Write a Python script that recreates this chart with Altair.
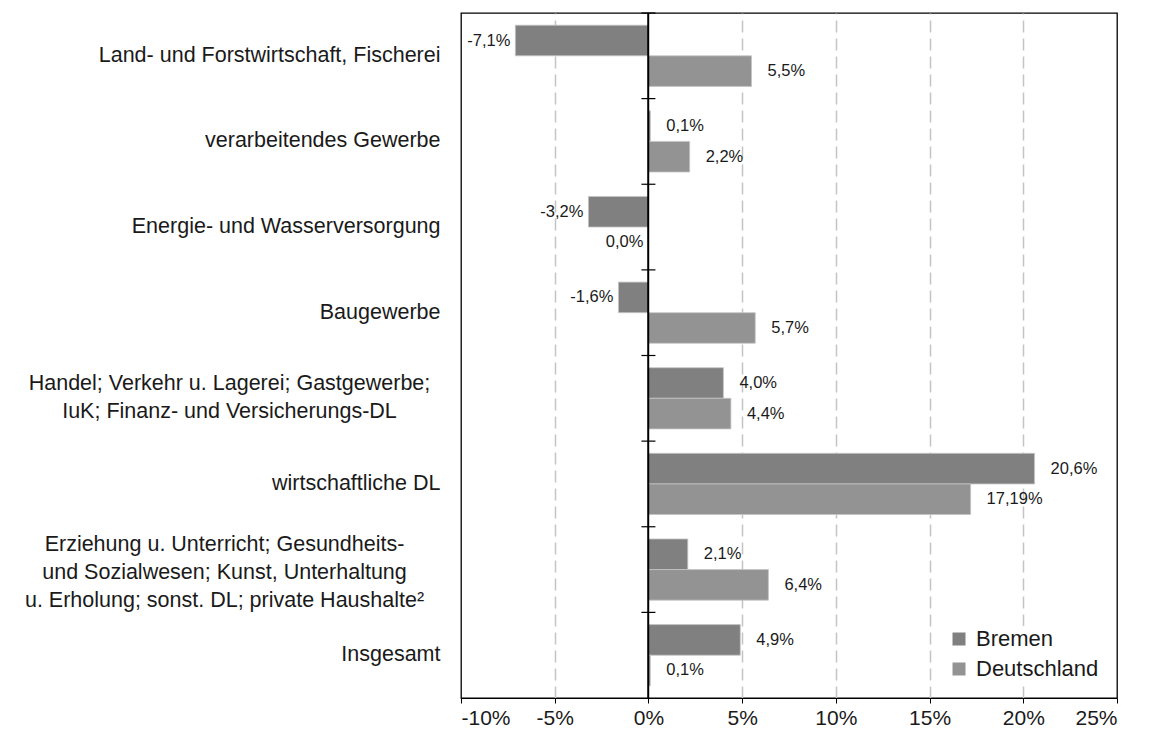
import altair as alt
import pandas as pd

categories = [
    "Land- und Forstwirtschaft, Fischerei",
    "verarbeitendes Gewerbe",
    "Energie- und Wasserversorgung",
    "Baugewerbe",
    "Handel; Verkehr u. Lagerei; Gastgewerbe;\nIuK; Finanz- und Versicherungs-DL",
    "wirtschaftliche DL",
    "Erziehung u. Unterricht; Gesundheits-\nund Sozialwesen; Kunst, Unterhaltung\nu. Erholung; sonst. DL; private Haushalte²",
    "Insgesamt",
]
series = ["Bremen", "Deutschland"]
bremen = [-7.1, 0.1, -3.2, -1.6, 4.0, 20.6, 2.1, 4.9]
deutschland = [5.5, 2.2, 0.0, 5.7, 4.4, 17.19, 6.4, 0.1]
bremen_labels = ["-7,1%", "0,1%", "-3,2%", "-1,6%", "4,0%", "20,6%", "2,1%", "4,9%"]
deutschland_labels = ["5,5%", "2,2%", "0,0%", "5,7%", "4,4%", "17,19%", "6,4%", "0,1%"]
x_ticks = [-10, -5, 0, 5, 10, 15, 20, 25]
colors = ["#808080", "#939393"]

rows = []
for name, vals, labs in [("Bremen", bremen, bremen_labels), ("Deutschland", deutschland, deutschland_labels)]:
    for c, v, l in zip(categories, vals, labs):
        rows.append({"cat": c, "series": name, "value": v, "label": l})
df = pd.DataFrame(rows)
cat_df = pd.DataFrame({"cat": categories})

FONT = "Liberation Sans"
TWO = "indexof(datum.value, 'Handel') == 0"
THREE = "indexof(datum.value, 'Erziehung') == 0"
LH = 28

y_axis = alt.Axis(
    title=None, ticks=False, domain=False,
    labelExpr="split(datum.label, '\\n')",
    labelFont=FONT, labelFontSize=21.5, labelColor="#1a1a1a", labelLineHeight=LH,
    labelLimit=0,
    labelAlign={"condition": {"test": TWO + " || " + THREE, "value": "center"}, "value": "right"},
    labelPadding={"condition": [{"test": TWO, "value": 232}, {"test": THREE, "value": 237}], "value": 21},
    labelOffset={"condition": [{"test": TWO, "value": -LH / 2}, {"test": THREE, "value": -LH + 3}], "value": 0},
)
y_enc = alt.Y("cat:N", sort=categories, scale=alt.Scale(paddingInner=0, paddingOuter=0), axis=y_axis)
y_off = alt.YOffset("series:N", sort=series, scale=alt.Scale(paddingInner=0, paddingOuter=0.4))

x_scale = alt.Scale(domain=[-10, 25], nice=False)
x_axis = alt.Axis(
    title=None, values=x_ticks, labelExpr="datum.value + '%'",
    labelFont=FONT, labelFontSize=21, labelColor="#1a1a1a", labelPadding=4,
    tickSize=5, tickColor="#000", domainColor="#000",
    grid=True, gridColor="#c4c4c4", gridWidth=1.5, gridDash=[12, 6],
    gridOpacity={"condition": {"test": "datum.value == 0 || datum.value == -10 || datum.value == 25", "value": 0}, "value": 1},
)

base = alt.Chart(df)

bars = base.mark_bar(stroke="#c4c4c4", strokeWidth=0.8).encode(
    x=alt.X("value:Q", scale=x_scale, axis=x_axis),
    y=y_enc,
    yOffset=y_off,
    color=alt.Color(
        "series:N", sort=series,
        scale=alt.Scale(domain=series, range=colors),
        legend=alt.Legend(
            title=None, orient="bottom-right", offset=16,
            symbolType="square", symbolSize=169, symbolStrokeWidth=0,
            labelFont=FONT, labelFontSize=22, labelColor="#1a1a1a", labelOffset=6,
            rowPadding=8, fillColor="white", padding=2,
        ),
    ),
)

txt_pos = base.transform_filter("datum.value > 0").mark_text(
    align="left", baseline="middle", dx=16, font=FONT, fontSize=16.5, color="#1a1a1a"
).encode(x="value:Q", y=alt.Y("cat:N", sort=categories), yOffset=y_off, text="label:N")

txt_neg = base.transform_filter("datum.value <= 0").mark_text(
    align="right", baseline="middle", dx=-5, font=FONT, fontSize=16.5, color="#1a1a1a"
).encode(x="value:Q", y=alt.Y("cat:N", sort=categories), yOffset=y_off, text="label:N")

zero = alt.Chart(cat_df).mark_rule(color="#000", strokeWidth=1.2).encode(x=alt.datum(0))

cat_ticks = alt.Chart(cat_df).mark_point(shape="stroke", size=196, stroke="#000", strokeWidth=1.2, filled=False, opacity=1).encode(
    x=alt.datum(0),
    y=alt.Y("cat:N", sort=categories, bandPosition=0),
)

chart = alt.layer(bars, zero, cat_ticks, txt_pos, txt_neg).properties(
    width=656, height=685,
    autosize=alt.AutoSizeParams(type="none"),
    padding={"left": 453, "top": 5, "right": 24, "bottom": 32},
    background="white",
).configure_view(stroke="#000", strokeWidth=1.3)

chart.save("out.html", embed_options={"renderer": "svg", "actions": False})
